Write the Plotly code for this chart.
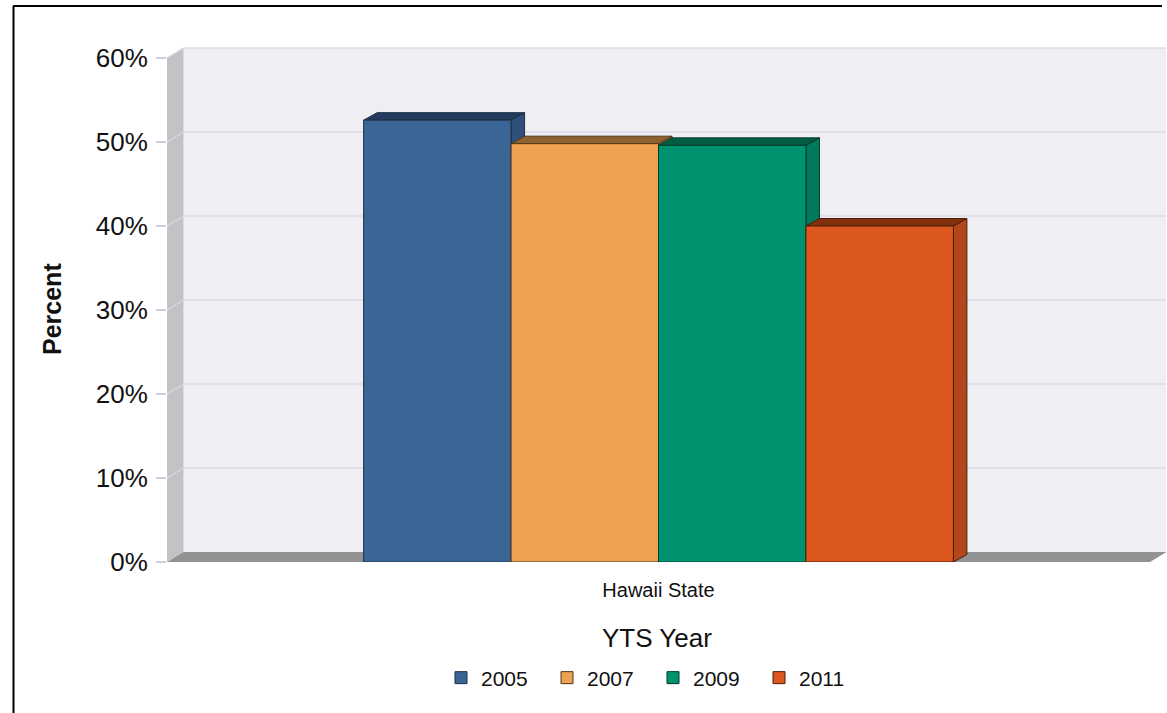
import plotly.graph_objects as go

# ---------------- data ----------------
categories = ["Hawaii State"]
years = ["2005", "2007", "2009", "2011"]
values = [52.6, 49.8, 49.6, 40.0]
y_ticks = [0, 10, 20, 30, 40, 50, 60]
y_tick_labels = ["0%", "10%", "20%", "30%", "40%", "50%", "60%"]

# ---------------- style ----------------
front_colors = ["#3A6596", "#EFA352", "#00936F", "#DD581F"]
top_colors = ["#233C5D", "#8F6131", "#005C42", "#83300F"]
side_colors = ["#2E5079", "#BF8242", "#007A5C", "#B1471A"]
edge_colors = ["#1F3048", "#4F361A", "#023B2B", "#4E1C08"]

W, H = 1167, 713
L, R, T, B = 167, 1150, 58, 562          # front plot area in pixels
WALL_DX, WALL_DY = 16.5, 10              # wall depth (px)
BAR_DX, BAR_DY = 13.5, 7.5               # bar depth (px)
BARGAP = 0.4
Y_MAX = 60
FONT = "Liberation Sans, Arial, sans-serif"


def px_x(p):
    return (p - L) / (R - L)


def px_y(p):
    return (B - p) / (B - T)


ypx_per_unit = (B - T) / Y_MAX
wall_dx = WALL_DX / (R - L)
wall_dy = WALL_DY / (B - T)

shapes = []
# back wall
shapes.append(dict(type="rect", xref="paper", yref="paper", layer="below",
                   x0=wall_dx, x1=px_x(W - 1), y0=wall_dy, y1=1 + wall_dy,
                   fillcolor="#EFEEF3", line=dict(width=0)))
# left wall
shapes.append(dict(type="path", xref="paper", yref="paper", layer="below",
                   path=f"M0,0 L0,1 L{wall_dx},{1 + wall_dy} L{wall_dx},{wall_dy} Z",
                   fillcolor="#C3C3C6", line=dict(width=0)))
# floor
shapes.append(dict(type="path", xref="paper", yref="paper", layer="below",
                   path=f"M0,0 L1,0 L{1 + wall_dx},{wall_dy} L{wall_dx},{wall_dy} Z",
                   fillcolor="#929292", line=dict(width=0)))
# gridlines on back wall + connectors on left wall
for v in y_ticks:
    fy = v / Y_MAX
    if v > 0:
        shapes.append(dict(type="line", xref="paper", yref="paper", layer="below",
                           x0=wall_dx, x1=px_x(W - 1), y0=fy + wall_dy, y1=fy + wall_dy,
                           line=dict(color="#D2D0E2", width=1.2)))
        shapes.append(dict(type="line", xref="paper", yref="paper", layer="below",
                           x0=0, x1=wall_dx, y0=fy, y1=fy + wall_dy,
                           line=dict(color="#D8D7E2", width=1.2)))

# 3D faces of the bars (top and side), computed from the values
n = len(years)
bw = (1 - BARGAP) / n
ddx = BAR_DX / (R - L)          # x range is 1 category wide
ddy = BAR_DY / ypx_per_unit
for i, v in enumerate(values):
    x0 = -(1 - BARGAP) / 2 + i * bw
    x1 = x0 + bw
    shapes.append(dict(type="path", xref="x", yref="y", layer="below",
                       path=f"M{x1},0 L{x1},{v} L{x1 + ddx},{v + ddy} L{x1 + ddx},{ddy} Z",
                       fillcolor=side_colors[i], line=dict(color=edge_colors[i], width=1)))
    shapes.append(dict(type="path", xref="x", yref="y", layer="below",
                       path=f"M{x0},{v} L{x1},{v} L{x1 + ddx},{v + ddy} L{x0 + ddx},{v + ddy} Z",
                       fillcolor=top_colors[i], line=dict(color=edge_colors[i], width=1)))

# outer border (top and left)
shapes.append(dict(type="line", xref="paper", yref="paper", layer="above",
                   x0=px_x(13), x1=px_x(1162), y0=px_y(6), y1=px_y(6),
                   line=dict(color="#000000", width=2)))
shapes.append(dict(type="line", xref="paper", yref="paper", layer="above",
                   x0=px_x(13.5), x1=px_x(13.5), y0=px_y(6), y1=px_y(H + 2),
                   line=dict(color="#000000", width=2)))

fig = go.Figure()
for i, yr in enumerate(years):
    fig.add_trace(go.Bar(
        x=categories, y=[values[i]], name=yr,
        marker=dict(color=front_colors[i], line=dict(color=edge_colors[i], width=1)),
        hoverinfo="skip",
    ))

fig.update_layout(
    width=W, height=H,
    margin=dict(l=L, r=W - R, t=T, b=H - B, pad=0),
    paper_bgcolor="white", plot_bgcolor="rgba(0,0,0,0)",
    barmode="group", bargap=BARGAP, bargroupgap=0,
    font=dict(family=FONT, color="#111111"),
    shapes=shapes,
    showlegend=True,
    legend=dict(orientation="h", x=px_x(653), xanchor="center",
                y=px_y(678), yanchor="middle",
                font=dict(size=21, family=FONT, color="#111111"),
                bgcolor="rgba(0,0,0,0)",
                entrywidth=61, entrywidthmode="pixels",
                traceorder="normal"),
    annotations=[
        dict(text="<b>Percent</b>", textangle=-90, showarrow=False,
             xref="paper", yref="paper", x=px_x(52), y=px_y(309),
             xanchor="center", yanchor="middle",
             font=dict(size=25, family=FONT, color="#111111")),
        dict(text="YTS Year", showarrow=False,
             xref="paper", yref="paper", x=px_x(657), y=px_y(638),
             xanchor="center", yanchor="middle",
             font=dict(size=26, family=FONT, color="#111111")),
    ],
)
fig.update_xaxes(range=[-0.5, 0.5], showgrid=False, zeroline=False, showline=False,
                 ticks="", tickfont=dict(size=20, family=FONT, color="#111111"),
                 ticklabelstandoff=14, fixedrange=True)
fig.update_yaxes(range=[0, Y_MAX], tickmode="array", tickvals=y_ticks, ticktext=y_tick_labels,
                 showgrid=False, zeroline=False, showline=False,
                 ticks="outside", ticklen=10, tickcolor="#CFCDE0", tickwidth=1.2,
                 tickfont=dict(size=26, family=FONT, color="#111111"),
                 ticklabelstandoff=3, fixedrange=True)

fig.write_html("out.html", config={"displayModeBar": False, "staticPlot": True},
               post_script="document.body.style.margin='0px';")
